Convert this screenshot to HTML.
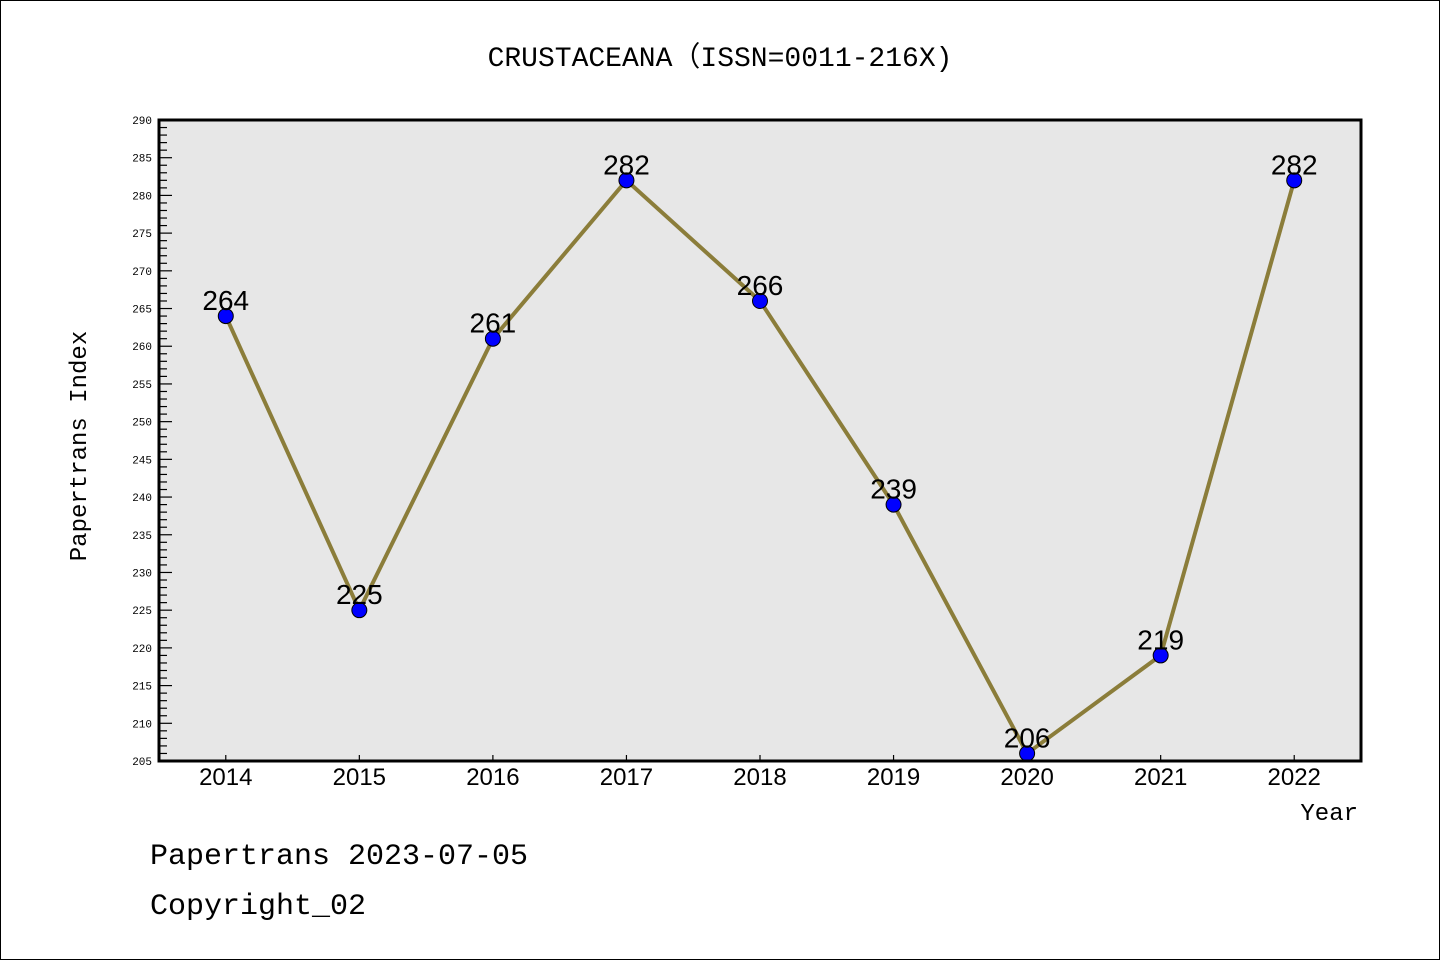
<!DOCTYPE html>
<html><head><meta charset="utf-8"><style>
body{margin:0;background:#fff}
svg{display:block;font-family:"Liberation Mono","DejaVu Sans Mono",monospace}
</style></head><body>
<svg id="c" width="1440" height="960">
<rect x="0.5" y="0.5" width="1439" height="959" fill="#fff" stroke="#000"/>
<text x="720" y="66" text-anchor="middle" font-size="28">CRUSTACEANA（ISSN=0011-216X)</text>
<rect x="159" y="120" width="1202" height="641" fill="#e7e7e7"/>
<g id="yt"></g><g id="xt"></g><g id="marks"></g>
<rect x="159" y="120" width="1202" height="641" fill="none" stroke="#000" stroke-width="3"/>
<text transform="translate(86,446) rotate(-90)" text-anchor="middle" font-size="24">Papertrans Index</text>
<text x="1358" y="820" text-anchor="end" font-size="24">Year</text>
<text x="150" y="864" font-size="30">Papertrans 2023-07-05</text>
<text x="150" y="914" font-size="30">Copyright_02</text>
</svg>
<script>
const years=["2014","2015","2016","2017","2018","2019","2020","2021","2022"];
const values=[264,225,261,282,266,239,206,219,282];
const yTicks=[205,210,215,220,225,230,235,240,245,250,255,260,265,270,275,280,285,290];
const NS="http://www.w3.org/2000/svg";
const L=159,R=1361,T=120,B=761,yMin=205,yMax=290;
const bw=(R-L)/years.length;
const x=i=>L+bw*(i+0.5);
const y=v=>B-(v-yMin)/(yMax-yMin)*(B-T);
function mk(tag,at,p){const e=document.createElementNS(NS,tag);for(const k in at)e.setAttribute(k,at[k]);p.appendChild(e);return e;}
const yt=document.getElementById('yt'),xt=document.getElementById('xt'),mg=document.getElementById('marks');
for(let v=yMin;v<=yMax;v++){
  const major=(v%5===0);
  const t=mk('line',{x1:L,x2:L+(major?13:8),y1:y(v),y2:y(v),stroke:'#000','stroke-width':1.2},yt);
  
  
}
yTicks.forEach(v=>{
  const t=mk('text',{x:L-7,y:y(v)+4,'text-anchor':'end','font-size':11},yt);t.textContent=v;
  
  
});
years.forEach((yr,i)=>{
  const t=mk('line',{x1:x(i),x2:x(i),y1:B,y2:B-6,stroke:'#000','stroke-width':1.2},xt);
  
  
  const l=mk('text',{x:x(i),y:785,'text-anchor':'middle','font-size':24,'font-family':'Liberation Sans, sans-serif'},xt);l.textContent=yr;
  
  
});
const pl=mk('polyline',{points:values.map((v,i)=>x(i)+','+y(v)).join(' '),fill:'none',stroke:'#8b7d3a','stroke-width':4},mg);


values.forEach((v,i)=>{
  const c=mk('circle',{cx:x(i),cy:y(v),r:7.5,fill:'#0000ff',stroke:'#000','stroke-width':1},mg);
  
  
  const t=mk('text',{x:x(i),y:y(v)-6,'text-anchor':'middle','font-size':28,'font-family':'Liberation Sans, sans-serif'},mg);t.textContent=v;
  
  
});
</script>
</body></html>
